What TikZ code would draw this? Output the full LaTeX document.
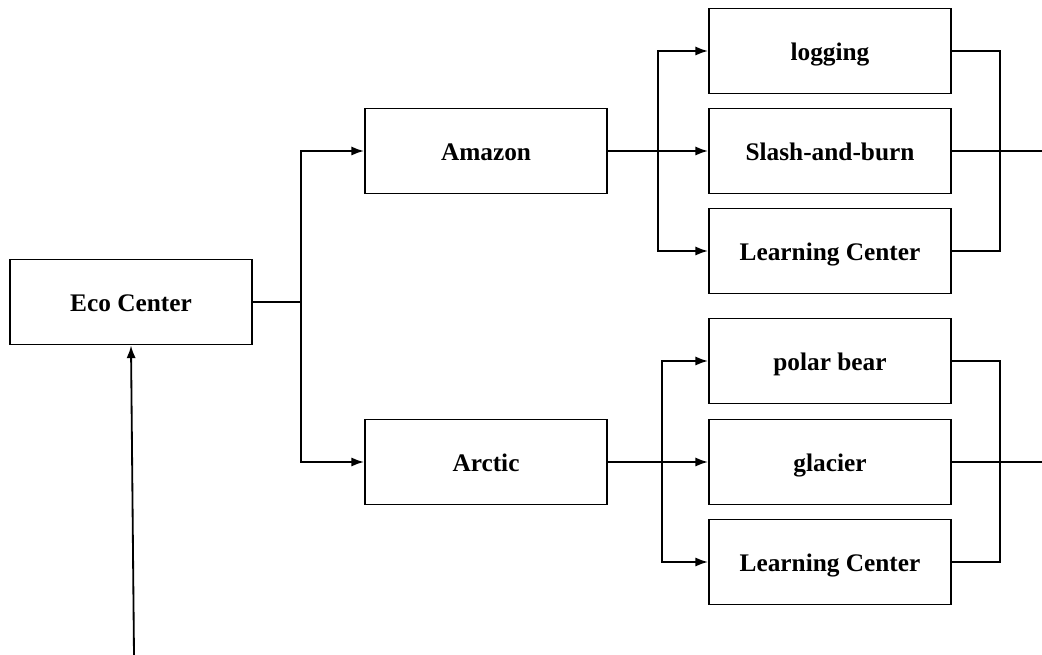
\documentclass[tikz,border=0pt]{standalone}
\usepackage{fontspec}
\setmainfont{Liberation Serif}
\usetikzlibrary{arrows.meta}

\tikzset{
 box/.style={draw=black, line width=1.3pt, minimum width=6.05cm, minimum height=2.125cm,
  font=\fontsize{18}{20}\selectfont\bfseries, inner sep=0pt, text height=13pt, text depth=0pt},
 link/.style={black, line width=1.3pt},
}

\begin{document}
\begin{tikzpicture} [x=0.025cm, y=-0.025cm, >={Latex[length=9pt,width=6.5pt]}]
\useasboundingbox (0,0) rectangle (1042,655);
\node[box] (eco) at (131,302) {Eco Center};
\node[box] (amazon) at (486,151) {Amazon};
\node[box] (arctic) at (486,462) {Arctic};
\foreach \name/\y/\txt in {logging/51/logging, slash/151/Slash-and-burn, learnA/251/Learning Center,
 polar/361/polar bear, glacier/462/glacier, learnB/562/Learning Center} {
 \node[box] (\name) at (830,\y) {\txt};
}
\coordinate (forkA) at (301,302);
\coordinate (forkB) at (658,151);
\coordinate (forkC) at (662,462);
\coordinate (joinA) at (1000,151);
\coordinate (joinB) at (1000,462);
\coordinate (outA) at (1042,151);
\coordinate (outB) at (1042,462);
\coordinate (src) at (134,655);

\draw[link] (eco.east) -- (forkA);
\draw[link,->] (forkA) |- (amazon.west);
\draw[link,->] (forkA) |- (arctic.west);
\draw[link,->] (amazon.east) -- (slash.west);
\draw[link,->] (forkB) |- (logging.west);
\draw[link,->] (forkB) |- (learnA.west);
\draw[link,->] (arctic.east) -- (glacier.west);
\draw[link,->] (forkC) |- (polar.west);
\draw[link,->] (forkC) |- (learnB.west);
\draw[link] (logging.east) -| (joinA) |- (learnA.east);
\draw[link] (slash.east) -- (outA);
\draw[link] (polar.east) -| (joinB) |- (learnB.east);
\draw[link] (glacier.east) -- (outB);
\draw[link,->] (src) -- (eco.south);
\end{tikzpicture}
\end{document}
